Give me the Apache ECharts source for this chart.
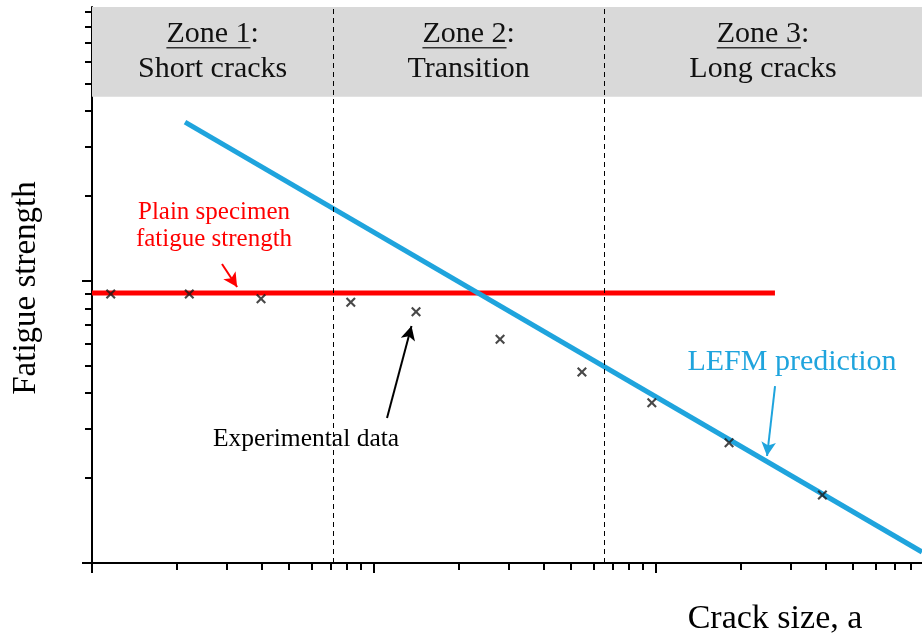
<!DOCTYPE html>
<html><head><meta charset="utf-8">
<script src="https://cdn.jsdelivr.net/npm/echarts@6/dist/echarts.min.js"></script>
<style>html,body{margin:0;padding:0;background:#fff}#c{width:922px;height:637px}</style>
</head><body><div id="c"></div>
<script>
// ---- data ----
const expX = [1.165, 2.213, 3.975, 8.27, 14.09, 27.98, 54.6, 96.6, 181.5, 388.9];
const expY = [8.99, 8.99, 8.66, 8.40, 7.78, 6.21, 4.76, 3.70, 2.67, 1.742];
const plainX = [1, 264];
const plainY = [9.06, 9.06];
const lefmX = [2.137, 877];
const lefmY = [36.6, 1.094];
const zoneBounds = [7.17, 65.4];
const zoneBandBottom = 45;
const zoneTitles = ['Zone 1', 'Zone 2', 'Zone 3'];
const zoneSubtitles = ['Short cracks', 'Transition', 'Long cracks'];
const xMajorTicks = [1, 10, 100];
const xMinorTicks = [2,3,4,5,6,7,8,9,20,30,40,50,60,70,80,90,200,300,400,500,600,700,800];
const yMajorTicks = [1, 10];
const yMinorTicks = [2,3,4,5,6,7,8,9,20,30,40,50,60,70,80,90];
const arrowPlain = [[2.89, 11.49], [3.27, 9.52]];
const arrowExp = [[11.12, 3.27], [13.58, 6.92]];
const arrowLefm = [[264.2, 4.24], [247.5, 2.396]];

// ---- axis config ----
const X_MIN = 1, X_MAX = 877;
const Y_MIN = 1, Y_MAX = 93.7;
const SERIF = '"Liberation Serif", "DejaVu Serif", serif';

const chart = echarts.init(document.getElementById('c'), null, {renderer: 'canvas'});

function logAxis(min, max, ticks, len, showLine, pos) {
  return {
    type: 'log', logBase: 10, min: min, max: max, position: pos,
    axisLine: {show: showLine, onZero: false, lineStyle: {color: '#000', width: 2}},
    axisTick: {show: true, inside: false, length: len, customValues: ticks,
               lineStyle: {color: '#000', width: 2}},
    axisLabel: {show: false},
    splitLine: {show: false}, minorTick: {show: false}, minorSplitLine: {show: false}
  };
}

const zoneEdges = [X_MIN].concat(zoneBounds).concat([X_MAX]);

const option = {
  animation: false,
  backgroundColor: '#fff',
  grid: {left: 92, right: 0, top: 7, bottom: 74, containLabel: false},
  xAxis: [
    logAxis(X_MIN, X_MAX, xMajorTicks, 10, true, 'bottom'),
    logAxis(X_MIN, X_MAX, xMinorTicks, 7, false, 'bottom')
  ],
  yAxis: [
    logAxis(Y_MIN, Y_MAX, yMajorTicks, 10, true, 'left'),
    logAxis(Y_MIN, Y_MAX, yMinorTicks, 7, false, 'left')
  ],
  series: [
    {
      name: 'band', type: 'line', data: [], xAxisIndex: 0, yAxisIndex: 0, silent: true,
      markArea: {
        silent: true,
        itemStyle: {color: '#d9d9d9'},
        label: {show: false},
        data: [[{coord: [X_MIN, zoneBandBottom]}, {coord: [X_MAX, Y_MAX]}]]
      },
      markLine: {
        silent: true, symbol: 'none', label: {show: false},
        lineStyle: {color: '#000', width: 1, type: [5, 4]},
        data: zoneBounds.map(v => ({xAxis: v}))
      }
    },
    {
      name: 'Plain specimen', type: 'line', xAxisIndex: 0, yAxisIndex: 0,
      data: plainX.map((x, i) => [x, plainY[i]]),
      symbol: 'none', lineStyle: {color: '#ff0000', width: 5}, z: 3,
      markLine: {
        silent: true, symbol: ['none', 'arrow'], symbolSize: [11, 14], label: {show: false},
        lineStyle: {color: '#ff0000', width: 2, type: 'solid'},
        data: [[{coord: arrowPlain[0]}, {coord: arrowPlain[1]}]]
      }
    },
    {
      name: 'LEFM prediction', type: 'line', xAxisIndex: 0, yAxisIndex: 0,
      data: lefmX.map((x, i) => [x, lefmY[i]]),
      symbol: 'none', lineStyle: {color: '#1fa4dd', width: 5}, z: 3,
      markLine: {
        silent: true, symbol: ['none', 'arrow'], symbolSize: [11, 14], label: {show: false},
        lineStyle: {color: '#1fa4dd', width: 2, type: 'solid'},
        data: [[{coord: arrowLefm[0]}, {coord: arrowLefm[1]}]]
      }
    },
    {
      name: 'Experimental data', type: 'scatter', xAxisIndex: 0, yAxisIndex: 0,
      data: expX.map((x, i) => [x, expY[i]]),
      symbol: 'path://M0,1.5L1.5,0L5,3.5L8.5,0L10,1.5L6.5,5L10,8.5L8.5,10L5,6.5L1.5,10L0,8.5L3.5,5Z',
      symbolSize: 10, itemStyle: {color: '#1a1a1a'}, z: 5,
      markLine: {
        silent: true, symbol: ['none', 'arrow'], symbolSize: [11, 14], label: {show: false},
        lineStyle: {color: '#000', width: 2, type: 'solid'},
        data: [[{coord: arrowExp[0]}, {coord: arrowExp[1]}]]
      }
    }
  ]
};
chart.setOption(option);

// ---- text annotations ----
const ctx = document.createElement('canvas').getContext('2d');
const zoneFont = 30;
ctx.font = zoneFont + 'px ' + SERIF;
const graphics = [];
function px(v) {
  const p = chart.convertToPixel({gridIndex: 0}, [v, 10]);
  return p[0];
}
for (let i = 0; i < 3; i++) {
  const cx = (px(zoneEdges[i]) + px(zoneEdges[i + 1])) / 2;
  const full = ctx.measureText(zoneTitles[i] + ':').width;
  const part = ctx.measureText(zoneTitles[i]).width;
  graphics.push({type: 'text', z: 50, x: cx, y: 34, style: {text: zoneTitles[i] + ':', font: zoneFont + 'px ' + SERIF, fill: '#111', textAlign: 'center', textVerticalAlign: 'middle'}});
  graphics.push({type: 'rect', z: 50, shape: {x: cx - full / 2, y: 47, width: part, height: 1.4}, style: {fill: '#333'}});
  graphics.push({type: 'text', z: 50, x: cx, y: 69, style: {text: zoneSubtitles[i], font: zoneFont + 'px ' + SERIF, fill: '#111', textAlign: 'center', textVerticalAlign: 'middle'}});
}
graphics.push({type: 'text', z: 50, x: 214, y: 212, style: {text: 'Plain specimen', font: '25px ' + SERIF, fill: '#ff0000', textAlign: 'center', textVerticalAlign: 'middle'}});
graphics.push({type: 'text', z: 50, x: 214, y: 239, style: {text: 'fatigue strength', font: '25px ' + SERIF, fill: '#ff0000', textAlign: 'center', textVerticalAlign: 'middle'}});
graphics.push({type: 'text', z: 50, x: 306, y: 439, style: {text: 'Experimental data', font: '25.5px ' + SERIF, fill: '#000', textAlign: 'center', textVerticalAlign: 'middle'}});
graphics.push({type: 'text', z: 50, x: 792, y: 362, style: {text: 'LEFM prediction', font: '30px ' + SERIF, fill: '#1fa4dd', textAlign: 'center', textVerticalAlign: 'middle'}});
graphics.push({type: 'text', z: 50, x: 26, y: 288, rotation: Math.PI / 2, style: {text: 'Fatigue strength', font: '33px ' + SERIF, fill: '#000', textAlign: 'center', textVerticalAlign: 'middle'}});
graphics.push({type: 'text', z: 50, x: 775, y: 619, style: {text: 'Crack size, a', font: '34px ' + SERIF, fill: '#000', textAlign: 'center', textVerticalAlign: 'middle'}});
chart.setOption({graphic: graphics});
</script>
</body></html>
